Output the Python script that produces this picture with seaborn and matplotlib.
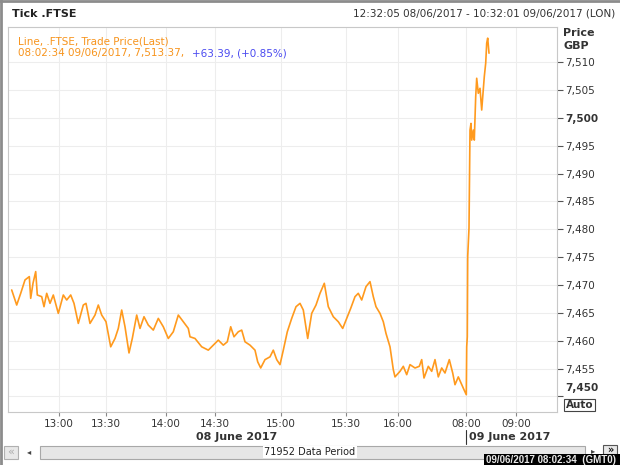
import numpy as np
import pandas as pd
import seaborn as sns
import matplotlib.pyplot as plt
from matplotlib.patches import Rectangle
from matplotlib.lines import Line2D
from matplotlib.transforms import ScaledTranslation

# tick sequence position (chart is tick-based, not time-based) and last trade price
seq = [11.7, 16.7, 20.7, 25, 29.3, 30.7, 33, 35.7, 37.3, 41.7, 44, 46.7, 50, 53.3,
       58.3, 63.3, 66.7, 70.7, 74, 78.3, 83.3, 86, 90, 95, 98.3, 101.7, 106, 110.7,
       115, 118.3, 121.7, 125, 129, 132.3, 136.7, 140, 144, 148.3, 153.3, 158.3,
       163.3, 168.3, 173.3, 178.3, 183.3, 188.3, 190, 195, 201.7, 208.3, 213.3,
       218.3, 223.3, 227.3, 230.7, 234, 238.3, 241.7, 245, 250, 255, 257.7, 260.7,
       265, 270, 273.3, 276.7, 280, 283.3, 287.3, 291.7, 296, 300, 303.3, 307.7,
       311.7, 316, 320, 324.3, 328.3, 333.3, 338.3, 342.7, 346.7, 350.7, 355, 358.3,
       361.7, 366, 370, 373.3, 376, 380, 383.3, 386, 390, 393.3, 395, 400, 403.3,
       406.7, 410, 415, 419.3, 421.7, 424, 428.3, 431.7, 435, 438.3, 441.7, 445,
       449.3, 452.7, 455, 458.3, 461.7, 464, 466.3, 466.7, 467.3, 467.7, 469, 470,
       471, 471.7, 473.3, 474.3, 475.7, 476.7, 478.3, 480, 481.7, 483.3, 484.3,
       485.7, 486.7, 487.7, 489]
price = [7469.1, 7466.4, 7468.5, 7470.9, 7471.5, 7467.6, 7470.3, 7472.4, 7468.2, 7467.9,
         7466.1, 7468.5, 7466.7, 7468.2, 7464.9, 7468.2, 7467.3, 7468.2, 7466.7, 7463.1,
         7466.4, 7466.7, 7463.1, 7464.6, 7466.4, 7464.6, 7463.4, 7458.9, 7460.4, 7462.2,
         7465.5, 7462.5, 7457.8, 7460.4, 7464.6, 7462.2, 7464.3, 7462.8, 7461.9, 7464.0,
         7462.5, 7460.4, 7461.6, 7464.6, 7463.4, 7462.2, 7460.7, 7460.4, 7458.9, 7458.3,
         7459.2, 7460.1, 7459.2, 7459.8, 7462.5, 7460.7, 7461.6, 7461.9, 7459.8, 7459.2,
         7458.3, 7456.2, 7455.1, 7456.6, 7457.1, 7458.3, 7456.6, 7455.7, 7458.3, 7461.6,
         7464.0, 7466.1, 7466.7, 7465.5, 7460.4, 7464.9, 7466.4, 7468.5, 7470.3, 7466.1,
         7464.3, 7463.4, 7462.2, 7464.0, 7465.8, 7467.9, 7468.5, 7467.3, 7469.7, 7470.6,
         7467.9, 7466.1, 7464.9, 7463.4, 7461.3, 7458.9, 7454.8, 7453.5, 7454.5, 7455.4,
         7453.9, 7455.7, 7455.1, 7455.4, 7456.6, 7453.3, 7455.4, 7454.5, 7456.6, 7453.5,
         7455.1, 7454.2, 7456.6, 7454.2, 7452.1, 7453.5, 7452.1, 7451.2, 7450.3, 7458.9,
         7460.7, 7475.1, 7480.2, 7497.8, 7499.0, 7496.0, 7497.8, 7496.0, 7503.8, 7507.1,
         7504.4, 7505.3, 7501.4, 7505.0, 7507.4, 7509.8, 7513.4, 7514.3, 7511.6]

time_ticks = [59, 106, 166, 215, 281, 346, 398, 466, 516]
time_labels = ["13:00", "13:30", "14:00", "14:30", "15:00", "15:30", "16:00", "08:00", "09:00"]
price_ticks = list(range(7450, 7515, 5))

df = pd.DataFrame({"seq": seq, "price": price})

sns.set_style("white")
plt.rcParams['font.family'] = ['DejaVu Sans']

W, H = 620, 465
def fx(px):
    return px / W
def fy(py):
    return 1 - py / H

fig = plt.figure(figsize=(6.2, 4.65), dpi=100)
fig.patch.set_facecolor("white")

ax = fig.add_axes([fx(8), fy(412), fx(557) - fx(8), fy(27) - fy(412)])
sns.lineplot(data=df, x="seq", y="price", ax=ax, color="#FF9A1E", linewidth=1.2)

ax.set_xlim(8, 557)
ax.set_ylim(7447.2, 7516.3)
ax.set_xlabel("")
ax.set_ylabel("")

ax.set_xticks(time_ticks)
ax.set_xticklabels(time_labels)
ax.set_yticks(price_ticks)
ax.set_yticklabels([f"{v:,}" for v in price_ticks])
ax.yaxis.tick_right()
ax.tick_params(axis="x", direction="out", length=3, width=0.8, color="#888888",
               labelsize=7.5, labelcolor="#333333", pad=2, bottom=True)
ax.tick_params(axis="y", direction="out", length=4, width=0.8, color="#555555",
               labelsize=7.5, labelcolor="#333333", pad=2, right=True, left=False)
for lab in ax.get_yticklabels():
    if lab.get_text() in ("7,500", "7,450"):
        lab.set_fontweight("bold")
    if lab.get_text() == "7,450":
        # the lowest label sits above its tick, leaving room for the Auto box
        lab.set_transform(lab.get_transform() + ScaledTranslation(0, 7 / 72, fig.dpi_scale_trans))

ax.grid(True, color="#EDEDED", linewidth=0.8)
for sp in ax.spines.values():
    sp.set_color("#C8C8C8")
    sp.set_linewidth(0.8)
    sp.set_visible(True)

# header
fig.text(fx(12), fy(14), "Tick .FTSE", fontsize=8, fontweight="bold", color="#222222", va="center")
fig.text(fx(615), fy(14), "12:32:05 08/06/2017 - 10:32:01 09/06/2017 (LON)", fontsize=7.5,
         color="#333333", va="center", ha="right")

# legend text inside plot
fig.text(fx(18), fy(41), "Line, .FTSE, Trade Price(Last)", fontsize=7.5, color="#F7941D", va="center")
fig.text(fx(18), fy(53), "08:02:34 09/06/2017, 7,513.37,", fontsize=7.5, color="#F7941D", va="center")
fig.text(fx(192), fy(53), "+63.39, (+0.85%)", fontsize=7.5, color="#4A4AF0", va="center")

# right axis title
fig.text(fx(563), fy(33), "Price", fontsize=8, fontweight="bold", color="#333333", va="center")
fig.text(fx(563), fy(46), "GBP", fontsize=8, fontweight="bold", color="#333333", va="center")
fig.add_artist(Rectangle((fx(564), fy(411)), fx(595) - fx(564), fy(399) - fy(411),
                         fc="white", ec="#444444", lw=0.8))
fig.text(fx(579.5), fy(405), "Auto", fontsize=7.5, fontweight="bold", color="#333333",
         va="center", ha="center")

# date row
fig.text(fx(237), fy(437), "08 June 2017", fontsize=8, fontweight="bold", color="#333333",
         va="center", ha="center")
fig.text(fx(510), fy(437), "09 June 2017", fontsize=8, fontweight="bold", color="#333333",
         va="center", ha="center")
fig.add_artist(Line2D([fx(466), fx(466)], [fy(430), fy(444)], color="#333333", lw=0.8))

# scrollbar
fig.add_artist(Rectangle((fx(40), fy(459)), fx(585) - fx(40), fy(446) - fy(459),
                         fc="#E6E6E6", ec="#A8A8A8", lw=0.8))
fig.add_artist(Rectangle((fx(4), fy(459)), fx(18) - fx(4), fy(446) - fy(459),
                         fc="#E8E8E8", ec="#B0B0B0", lw=0.8))
fig.text(fx(11), fy(452), "«", fontsize=8, color="#AAAAAA", va="center", ha="center")
fig.text(fx(29), fy(452), "◂", fontsize=6, color="#444444", va="center", ha="center")
fig.text(fx(593), fy(451), "▸", fontsize=6, color="#444444", va="center", ha="center")
fig.add_artist(Rectangle((fx(603), fy(454)), fx(617) - fx(603), fy(445) - fy(454),
                         fc="#E8E8E8", ec="#555555", lw=0.8))
fig.text(fx(610), fy(449.5), "»", fontsize=7, color="#111111", va="center", ha="center",
         fontweight="bold")
fig.text(fx(310), fy(452), "71952 Data Period", fontsize=7, color="#222222", va="center",
         ha="center", bbox=dict(boxstyle="square,pad=0.1", fc="white", ec="none"))

# status box
fig.add_artist(Rectangle((fx(484), fy(465)), fx(620) - fx(484), fy(454) - fy(465),
                         fc="black", ec="none"))
fig.text(fx(551), fy(460), "09/06/2017 08:02:34  (GMT0)", fontsize=7, color="#E8E8E8",
         va="center", ha="center", fontweight="bold", family=["Liberation Sans", "DejaVu Sans"])

# window frame
fig.add_artist(Line2D([fx(1), fx(1)], [fy(0), fy(465)], color="#8C8C8C", lw=2))
fig.add_artist(Line2D([fx(0), fx(620)], [fy(1), fy(1)], color="#8C8C8C", lw=2))

fig.savefig("out.png", dpi=100)
